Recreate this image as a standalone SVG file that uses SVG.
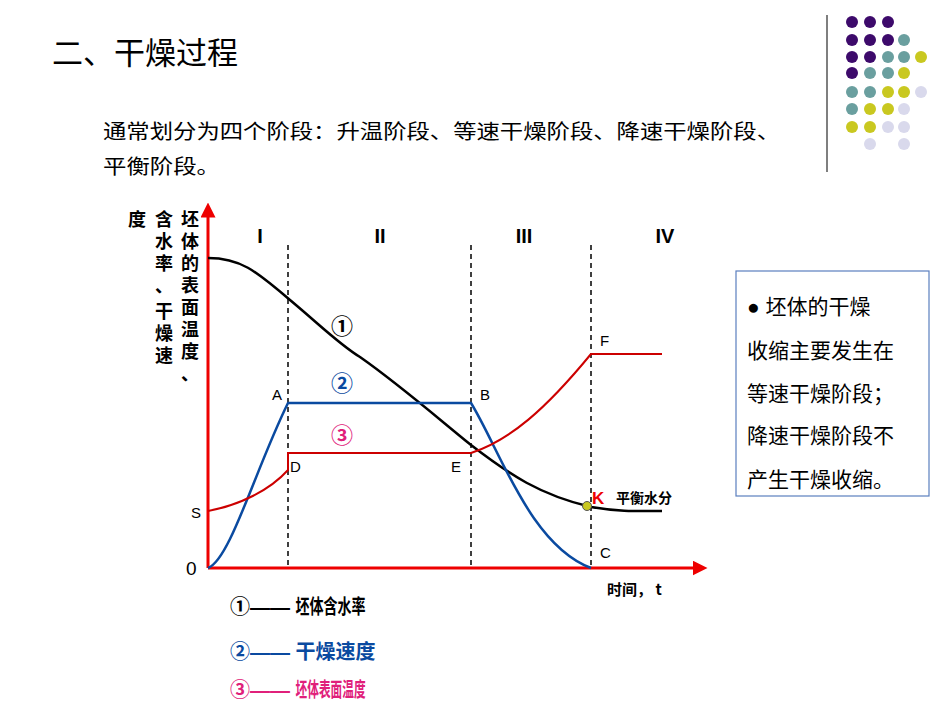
<svg xmlns="http://www.w3.org/2000/svg" width="950" height="713" viewBox="0 0 950 713">
<style>
text{font-family:"Liberation Sans","Noto Sans CJK SC",sans-serif}
.cj{font-family:"Noto Sans CJK SC",sans-serif}
.lb{font-size:15px}
.dash{stroke:#000;stroke-width:1.5;stroke-dasharray:5,4;fill:none}
.P{fill:#3d0a6b}.T{fill:#6a9f9f}.Y{fill:#c9c820}.L{fill:#d9d9ec}
</style>
<defs><marker id="ar" viewBox="0 0 10 10" refX="5" refY="5" markerWidth="5" markerHeight="5" orient="auto"><path d="M0,0L10,5L0,10z" fill="#e00"/></marker></defs>
<rect width="950" height="713" fill="#fff"/>
<g id="deco">
<line x1="827" y1="15" x2="827" y2="172" stroke="#555" stroke-width="1.5"/>
<g>
<circle class="P" cx="852" cy="22" r="6"/><circle class="P" cx="870" cy="22" r="6"/><circle class="P" cx="888" cy="22" r="6"/>
<circle class="P" cx="852" cy="40" r="6"/><circle class="P" cx="870" cy="40" r="6"/><circle class="P" cx="888" cy="40" r="6"/><circle class="T" cx="904" cy="40" r="6"/>
<circle class="P" cx="852" cy="57" r="6"/><circle class="P" cx="870" cy="57" r="6"/><circle class="T" cx="888" cy="57" r="6"/><circle class="T" cx="904" cy="57" r="6"/><circle class="Y" cx="921" cy="57" r="6"/>
<circle class="P" cx="852" cy="73" r="6"/><circle class="T" cx="870" cy="73" r="6"/><circle class="T" cx="888" cy="73" r="6"/><circle class="Y" cx="904" cy="73" r="6"/>
<circle class="T" cx="852" cy="92" r="6"/><circle class="T" cx="870" cy="92" r="6"/><circle class="Y" cx="888" cy="92" r="6"/><circle class="Y" cx="904" cy="92" r="6"/><circle class="L" cx="921" cy="92" r="6"/>
<circle class="T" cx="852" cy="109" r="6"/><circle class="Y" cx="870" cy="109" r="6"/><circle class="Y" cx="888" cy="109" r="6"/><circle class="L" cx="904" cy="109" r="6"/>
<circle class="Y" cx="852" cy="127" r="6"/><circle class="Y" cx="870" cy="127" r="6"/><circle class="L" cx="888" cy="127" r="6"/><circle class="L" cx="904" cy="127" r="6"/>
<circle class="L" cx="870" cy="144" r="6"/><circle class="L" cx="904" cy="144" r="6"/>
</g>
</g>
<g id="title">
<text x="52" y="64" font-size="31" class="cj">二、干燥过程</text>
<text x="103" y="139" font-size="20" class="cj" textLength="677" lengthAdjust="spacingAndGlyphs">通常划分为四个阶段：升温阶段、等速干燥阶段、降速干燥阶段、</text>
<text x="103" y="174" font-size="20" class="cj" textLength="117" lengthAdjust="spacingAndGlyphs">平衡阶段。</text>
</g>
<g id="ylabel" font-size="18" font-weight="bold" class="cj">
<text x="128" y="226">度</text>
<g text-anchor="middle">
<text x="164" y="226">含</text><text x="164" y="248">水</text><text x="164" y="270">率</text><text x="164" y="292">、</text><text x="164" y="318">干</text><text x="164" y="340">燥</text><text x="164" y="362">速</text>
<text x="190" y="226">坯</text><text x="190" y="248">体</text><text x="190" y="270">的</text><text x="190" y="292">表</text><text x="190" y="314">面</text><text x="190" y="336">温</text><text x="190" y="358">度</text><text x="190" y="380">、</text>
</g>
</g>
<g id="connectors">
<line x1="208" y1="568" x2="208" y2="210" stroke="#e00" stroke-width="3" marker-end="url(#ar)"/>
<line x1="208" y1="568" x2="700" y2="568" stroke="#e00" stroke-width="3" marker-end="url(#ar)"/>
<path class="dash" d="M288 245V568M471 245V568M591 245V568"/>
<path d="M208 258C240 258 255 270 290 300C320 325 340 345 360 357C400 385 440 420 471 445C510 475 540 495 591 507C620 512 640 511 662 511" stroke="#000" stroke-width="2.5" fill="none"/>
<path d="M208 568C230 560 255 470 288 403H471C500 450 530 545 591 568" stroke="#0a4aa0" stroke-width="2.5" fill="none"/>
<path d="M208 511C240 505 270 490 288 470V453H471C510 440 545 410 591 354H662" stroke="#c00" stroke-width="2" fill="none"/>
<circle cx="587" cy="506" r="4.5" fill="#c9c820" stroke="#555"/>
</g>
<g id="labels" font-weight="bold">
<text x="260" y="243" font-size="20" text-anchor="middle" font-family="Liberation Serif,serif">I</text><text x="380" y="243" font-size="20" text-anchor="middle" font-family="Liberation Serif,serif">II</text><text x="524" y="243" font-size="20" text-anchor="middle" font-family="Liberation Serif,serif">III</text><text x="665" y="243" font-size="20" text-anchor="middle" font-family="Liberation Serif,serif">IV</text>
<text x="342" y="334" font-size="22" text-anchor="middle">①</text>
<text x="342" y="391" font-size="22" text-anchor="middle" fill="#0a4aa0">②</text>
<text x="342" y="443" font-size="22" text-anchor="middle" fill="#e0207a">③</text>
</g>
<g id="pts" class="lb">
<text x="272" y="400">A</text><text x="480" y="400">B</text><text x="290" y="472">D</text><text x="451" y="472">E</text>
<text x="191" y="518">S</text><text x="600" y="558">C</text><text x="600" y="346">F</text>
<text x="186" y="575" font-size="19">0</text>
<text x="592" y="504" font-size="17" fill="#e00" font-weight="bold">K</text>
<text x="616" y="503" font-size="14" font-weight="bold" class="cj">平衡水分</text>
<text x="607" y="595" font-weight="bold" class="cj">时间， t</text>
</g>
<g id="legend" font-size="20" font-weight="bold">
<text x="230" y="614">①——  <tspan class="cj" textLength="70" lengthAdjust="spacingAndGlyphs">坯体含水率</tspan></text>
<text x="230" y="659" fill="#0a4aa0">②——  <tspan class="cj">干燥速度</tspan></text>
<text x="230" y="697" fill="#e0207a">③——  <tspan class="cj" textLength="70" lengthAdjust="spacingAndGlyphs">坯体表面温度</tspan></text>
</g>
<g id="note">
<rect x="736" y="271" width="193" height="225" fill="#fff" stroke="#5b7fbf" stroke-width="1.2"/>
<g font-size="21" class="cj"><text x="747" y="314">●  坯体的干燥</text><text x="747" y="358">收缩主要发生在</text><text x="747" y="401">等速干燥阶段；</text><text x="747" y="443">降速干燥阶段不</text><text x="747" y="487">产生干燥收缩。</text></g>
</g>
</svg>
